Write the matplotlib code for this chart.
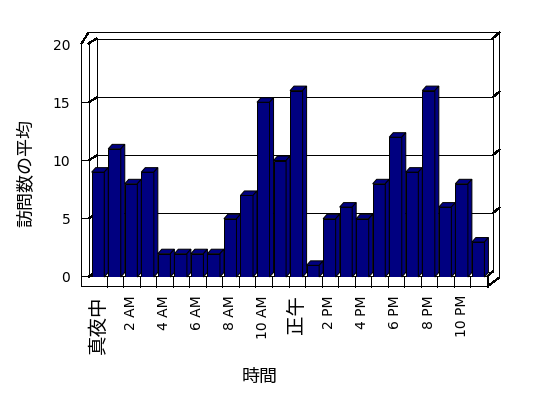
import math
import matplotlib
matplotlib.use('Agg')
import matplotlib.pyplot as plt
from matplotlib.lines import Line2D
from matplotlib.patches import Polygon
from matplotlib.transforms import IdentityTransform

plt.rcParams['font.family'] = ['Noto Sans CJK JP', 'DejaVu Sans']

# ---- data ----
hours = list(range(24))
visits = [9, 11, 8, 9, 2, 2, 2, 2, 5, 7, 15, 10, 16, 1, 5, 6, 5, 8, 12, 9, 16, 6, 8, 3]
tick_pos = [0, 2, 4, 6, 8, 10, 12, 14, 16, 18, 20, 22]
tick_labels = ['真夜中', '2 AM', '4 AM', '6 AM', '8 AM', '10 AM', '正午',
               '2 PM', '4 PM', '6 PM', '8 PM', '10 PM']
y_ticks = [0, 5, 10, 15, 20]
y_title = '訪問数の平均'
x_title = '時間'

W, H = 548, 398
fig = plt.figure(figsize=(W / 100, H / 100), dpi=100)
fig.patch.set_facecolor('white')
ax = fig.add_axes([89.7 / W, (H - 277) / H, 396.7 / W, 233 / H])
xl, xr = -0.5, 23.5
ax.set_xlim(xl, xr)
ax.set_ylim(0, 20)
ax.set_autoscale_on(False)
for s in ax.spines.values():
    s.set_visible(False)
ax.patch.set_visible(False)


def P(x, y, dx=0.0, dy=0.0):
    px, py = ax.transData.transform((x, y))
    return (math.floor(px + dx) + 0.5, math.floor(py + dy) + 0.5)


LW = 0.72


def line(pts, z=1):
    xs = [p[0] for p in pts]
    ys = [p[1] for p in pts]
    ax.add_line(Line2D(xs, ys, transform=IdentityTransform(), color='black',
                       lw=LW, zorder=z, clip_on=False, antialiased=False))


BK = (6.5, 5)     # back wall inner offset (px)
BO = (13.5, 11)   # back wall outer offset
LO, LI = -8, -1.5  # left wall outer / inner x offsets
FB = -10          # floor slab thickness

# back wall
wall = Polygon([P(xl, 0, *BK), P(xr, 0, *BK), P(xr, 20, *BK), P(xl, 20, *BK)],
               closed=True, transform=IdentityTransform(), facecolor='white',
               edgecolor='black', lw=LW, zorder=0.5, clip_on=False, antialiased=False)
ax.add_patch(wall)

# grid lines on back wall + right wall and left wall
for v in y_ticks[1:-1]:
    line([P(xl, v, *BK), P(xr, v, *BK), P(xr, v, *BO)])
    line([P(xl, v, LO, 0), P(xl, v, LI, 0), P(xl, v, *BK)])
line([P(xr, 20, *BK), P(xr, 20, *BO)])

# outer outline
line([P(xl, 20, LO, 0), P(xl, 20, -1, 11), P(xr, 20, *BO), P(xr, 0, BO[0], -1),
      P(xr, 0, 0.6, FB), P(xl, 0, LO, FB), P(xl, 20, LO, 0)])
# left wall inner
line([P(xl, 20, LI, 0), P(xl, 0, LI, 0)])
line([P(xl, 20, LI, 0), P(xl, 20, *BK)])
# floor
line([P(xl, 0, LO, 0), P(xr, 0, 0.6, 0), P(xr, 0, *BK)], z=1)
line([P(xr, 0, 0.6, 0), P(xr, 0, 0.6, FB)], z=1)
line([P(xl, 0, LI, 0), P(xl, 0, *BK)], z=1)
for k in range(1, 25):
    line([P(xl + k, 0, 0, 0), P(xl + k, 0, 0, FB)], z=1)

# bars (front + top + side faces)
bw = 0.76
navy = '#000080'
ax.bar(hours, visits, width=bw, color=navy, edgecolor='black', linewidth=LW, zorder=3)
pxu = ax.transData.transform((1, 0))[0] - ax.transData.transform((0, 0))[0]
pyu = ax.transData.transform((0, 1))[1] - ax.transData.transform((0, 0))[1]
ddx, ddy = 4.0 / pxu, 4.5 / pyu
for h, v in zip(hours, visits):
    a, b = h - bw / 2, h + bw / 2
    top = Polygon([(a, v), (a + ddx, v + ddy), (b + ddx, v + ddy), (b, v)], closed=True,
                  facecolor=navy, edgecolor='black', lw=LW, zorder=3, clip_on=False)
    side = Polygon([(b, 0), (b, v), (b + ddx, v + ddy), (b + ddx, ddy)], closed=True,
                   facecolor=navy, edgecolor='black', lw=LW, zorder=3, clip_on=False)
    ax.add_patch(top)
    ax.add_patch(side)

# ticks
ax.set_yticks(y_ticks)
ax.set_yticklabels([str(t) for t in y_ticks], fontsize=10, family='DejaVu Sans')
ax.tick_params(axis='y', length=0, pad=14)
ax.set_xticks(tick_pos)
ax.set_xticklabels(tick_labels, rotation=90, fontsize=10)
ax.tick_params(axis='x', length=0, pad=13)
for t in ax.get_xticklabels():
    if t.get_text().isascii():
        t.set_family('DejaVu Sans')
    else:
        t.set_fontsize(14)

fig.text(26 / W, 1 - 173 / H, y_title, rotation=90, ha='center', va='center', fontsize=13)
fig.text(259.5 / W, 1 - 377 / H, x_title, ha='center', va='center', fontsize=13)

fig.savefig('out.png', dpi=100, facecolor='white')
